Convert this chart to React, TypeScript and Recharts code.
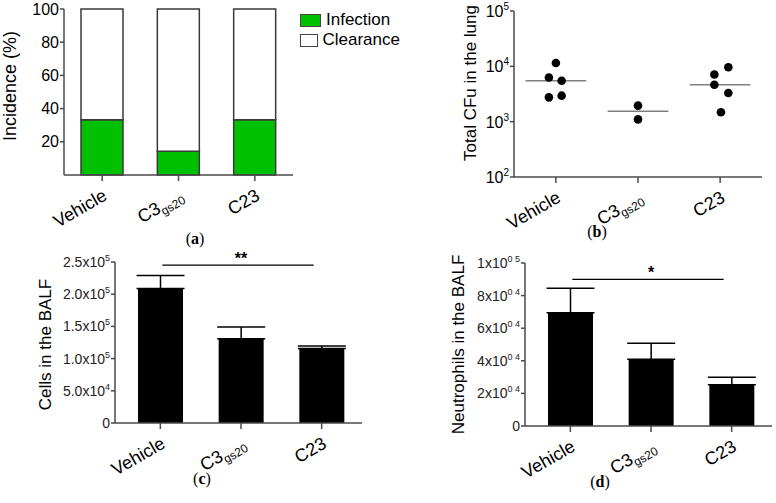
import { Bar, BarChart, ErrorBar, Label, Legend, ReferenceLine, Scatter, ScatterChart, XAxis, YAxis } from "recharts";

const FONT = '"Liberation Sans", Arial, sans-serif';
const SERIF = '"Liberation Serif", "Times New Roman", serif';
const AXIS = "#4a4a4a";
const GREEN = "#00c000";

// groups (x categories), label split into main text and subscript
const groupMain = ["Vehicle", "C3", "C23"];
const groupSub = ["", "gs20", ""];
const groupKeys = groupMain.map((m, i) => m + groupSub[i]);

// (a) incidence %
const infection = [33.3, 14.3, 33.3];
const legendOrder = ["Infection", "Clearance"];

// (b) total CFU in the lung, per animal
const cfuVehicle = [11500, 6300, 5500, 2950, 2750];
const cfuC3 = [1950, 1100];
const cfuC23 = [9600, 7100, 4650, 3300, 1480];
const cfuMedian = [5500, 1540, 4650];
const cfuTicks = [100, 1000, 10000, 100000];

// (c) cells in the BALF, mean + SEM
const cells = [209000, 131000, 115600];
const cellsSem = [20000, 18000, 4100];
const cellsTicks = [0, 50000, 100000, 150000, 200000, 250000];

// (d) neutrophils in the BALF, mean + SEM
const neut = [69500, 40900, 25300];
const neutSem = [15000, 9800, 4600];
const neutTicks = [0, 20000, 40000, 60000, 80000, 100000];

// horizontal jitter of the dots in (b)
const jitter = [
  [0, -0.085, 0.07, 0.07, -0.085],
  [0, 0],
  [0.1, -0.07, -0.07, 0.1, 0.01],
];

const incidenceData = groupKeys.map((g, i) => ({ group: g, infection: infection[i], clearance: 100 - infection[i] }));
const cfuData = [cfuVehicle, cfuC3, cfuC23].flatMap((vals, gi) =>
  vals.map((v, j) => ({ x: gi + 1 + jitter[gi][j], y: v }))
);
const cellsData = groupKeys.map((g, i) => ({ group: g, value: cells[i], err: [0, cellsSem[i]] }));
const neutData = groupKeys.map((g, i) => ({ group: g, value: neut[i], err: [0, neutSem[i]] }));

const axisProps = {
  axisLine: { stroke: AXIS, strokeWidth: 1.5 },
  tickLine: { stroke: AXIS, strokeWidth: 1.5 },
};

function GroupTick(props: any) {
  const { x, y, payload } = props;
  const i = typeof payload.value === "number" ? Math.round(payload.value) - 1 : groupKeys.indexOf(payload.value);
  return (
    <g transform={`translate(${x + 6},${y + 18}) rotate(-30)`}>
      <text textAnchor="end" fontSize={18} fontFamily={FONT} fill="#000">
        {groupMain[i]}
        {groupSub[i] ? (
          <tspan fontSize={12} dy={4}>
            {groupSub[i]}
          </tspan>
        ) : null}
      </text>
    </g>
  );
}

function YTitle(props: any) {
  const { viewBox, text, x, dy = 0, size = 17 } = props;
  const cy = viewBox.y + viewBox.height / 2 + dy;
  return (
    <text
      x={x}
      y={cy}
      transform={`rotate(-90 ${x} ${cy})`}
      textAnchor="middle"
      dominantBaseline="central"
      fontSize={size}
      fontFamily={FONT}
      fill="#000"
    >
      {text}
    </text>
  );
}

function PowTick(props: any) {
  const { x, y, payload } = props;
  const exp = Math.round(Math.log10(payload.value));
  return (
    <text x={x} y={y + 6} textAnchor="end" fontSize={16} fontFamily={FONT} fill="#000">
      10
      <tspan fontSize={10} dy={-7}>
        {exp}
      </tspan>
    </text>
  );
}

function SciTick(props: any) {
  const { x, y, payload, digits, pad } = props;
  const v = payload.value;
  if (v === 0) {
    return (
      <text x={x} y={y + 5} textAnchor="end" fontSize={14} fontFamily={FONT} fill="#222">
        0
      </text>
    );
  }
  const exp = Math.floor(Math.log10(v) + 1e-9);
  const m = (v / Math.pow(10, exp)).toFixed(digits);
  return (
    <text x={x} y={y + 5} textAnchor="end" fontSize={14} fontFamily={FONT} fill="#222">
      {m}x10
      <tspan fontSize={9} dy={-6}>
        {pad ? `0 ${exp}` : exp}
      </tspan>
    </text>
  );
}

function SigLine(props: any) {
  const { x1, x2, y1 } = props;
  return <line x1={x1 + 2} x2={x2 - 8} y1={y1} y2={y1} stroke="#000" strokeWidth={1.2} />;
}

function LegendBox(props: any) {
  const items = [...(props.payload || [])].sort(
    (a: any, b: any) => legendOrder.indexOf(a.value) - legendOrder.indexOf(b.value)
  );
  return (
    <div style={{ fontFamily: FONT, fontSize: 17, color: "#000" }}>
      {items.map((it: any) => (
        <div key={it.value} style={{ display: "flex", alignItems: "center", height: 20 }}>
          <span
            style={{
              display: "inline-block",
              width: 19,
              height: 11,
              border: "1.5px solid #444",
              background: it.payload?.fill ?? it.color,
            }}
          />
          <span style={{ marginLeft: 5 }}>{it.value}</span>
        </div>
      ))}
    </div>
  );
}

function Caption({ letter, cx, cy }: { letter: string; cx: number; cy: number }) {
  return (
    <div
      style={{
        position: "absolute",
        left: cx - 20,
        top: cy - 10,
        width: 40,
        textAlign: "center",
        fontFamily: SERIF,
        fontSize: 16,
        lineHeight: "20px",
      }}
    >
      (<b>{letter}</b>)
    </div>
  );
}

export default function App() {
  return (
    <div style={{ position: "absolute", left: 0, top: 0, width: 776, height: 503, background: "#fff", overflow: "hidden" }}>
      <div style={{ position: "absolute", left: 0, top: 0 }}>
        <BarChart width={400} height={250} data={incidenceData} margin={{ top: 9, right: 107, bottom: 0, left: 0 }}>
          <XAxis dataKey="group" height={75} interval={0} tickSize={6} tickMargin={0} tick={<GroupTick />} {...axisProps} />
          <YAxis
            width={64}
            domain={[0, 100]}
            ticks={[20, 40, 60, 80, 100]}
            tickSize={4}
            tickMargin={1}
            tick={{ fontSize: 16, fontFamily: FONT, fill: "#000" }}
            {...axisProps}
          >
            <Label content={(p: any) => <YTitle {...p} text="Incidence (%)" x={10} dy={-6} size={18} />} />
          </YAxis>
          <Legend
            layout="vertical"
            align="center"
            verticalAlign="middle"
            wrapperStyle={{ left: 300, top: 10, width: 100 }}
            content={<LegendBox />}
          />
          <Bar dataKey="infection" name="Infection" stackId="s" fill={GREEN} stroke="#3a3a3a" strokeWidth={1.5} barSize={42} isAnimationActive={false} />
          <Bar dataKey="clearance" name="Clearance" stackId="s" fill="#fff" stroke="#3a3a3a" strokeWidth={1.5} barSize={42} isAnimationActive={false} />
        </BarChart>
      </div>

      <div style={{ position: "absolute", left: 400, top: 0 }}>
        <ScatterChart width={376} height={250} margin={{ top: 11, right: 14, bottom: 0, left: 0 }}>
          <XAxis
            type="number"
            dataKey="x"
            domain={[0.49, 3.51]}
            ticks={[1, 2, 3]}
            interval={0}
            height={73}
            tickSize={6}
            tickMargin={0}
            tick={<GroupTick />}
            {...axisProps}
          />
          <YAxis
            type="number"
            dataKey="y"
            scale="log"
            domain={[100, 100000]}
            ticks={cfuTicks}
            interval={0}
            width={114}
            tickSize={4}
            tickMargin={1}
            tick={<PowTick />}
            {...axisProps}
          >
            <Label content={(p: any) => <YTitle {...p} text="Total CFu in the lung" x={70} dy={-11} />} />
          </YAxis>
          {cfuMedian.map((m, i) => (
            <ReferenceLine
              key={i}
              segment={[
                { x: i + 1 - 0.37, y: m },
                { x: i + 1 + 0.37, y: m },
              ]}
              stroke="#808080"
              strokeWidth={1.5}
            />
          ))}
          <Scatter
            data={cfuData}
            fill="#000"
            isAnimationActive={false}
            shape={(p: any) => <circle cx={p.cx} cy={p.cy} r={4.3} fill="#000" />}
          />
        </ScatterChart>
      </div>

      <div style={{ position: "absolute", left: 0, top: 250 }}>
        <BarChart width={400} height={253} data={cellsData} margin={{ top: 12, right: 38, bottom: 0, left: 0 }}>
          <XAxis dataKey="group" height={80} interval={0} padding={{ left: 5, right: 0 }} tickSize={6} tickMargin={0} tick={<GroupTick />} {...axisProps} />
          <YAxis
            width={115}
            domain={[0, 250000]}
            ticks={cellsTicks}
            interval={0}
            tickSize={4}
            tickMargin={1}
            tick={<SciTick digits={1} />}
            {...axisProps}
          >
            <Label content={(p: any) => <YTitle {...p} text="Cells in the BALF" x={45} dy={2} />} />
          </YAxis>
          <Bar dataKey="value" fill="#000" barSize={45} isAnimationActive={false}>
            <ErrorBar dataKey="err" direction="y" width={24} stroke="#000" strokeWidth={1.5} />
          </Bar>
          <ReferenceLine
            segment={[
              { x: groupKeys[0], y: 245000 },
              { x: groupKeys[2], y: 245000 },
            ]}
            shape={<SigLine />}
          >
            <Label value="**" position="top" offset={1} fontSize={16} fontWeight="bold" fill="#000" fontFamily={FONT} />
          </ReferenceLine>
        </BarChart>
      </div>

      <div style={{ position: "absolute", left: 400, top: 250 }}>
        <BarChart width={376} height={253} data={neutData} margin={{ top: 13, right: 4, bottom: 0, left: 0 }}>
          <XAxis dataKey="group" height={77} interval={0} padding={{ left: 5, right: 0 }} tickSize={6} tickMargin={0} tick={<GroupTick />} {...axisProps} />
          <YAxis
            width={125}
            domain={[0, 100000]}
            ticks={neutTicks}
            interval={0}
            tickSize={4}
            tickMargin={1}
            tick={<SciTick digits={0} pad />}
            {...axisProps}
          >
            <Label content={(p: any) => <YTitle {...p} text="Neutrophils in the BALF" x={58} dy={0} />} />
          </YAxis>
          <Bar dataKey="value" fill="#000" barSize={45} isAnimationActive={false}>
            <ErrorBar dataKey="err" direction="y" width={24} stroke="#000" strokeWidth={1.5} />
          </Bar>
          <ReferenceLine
            segment={[
              { x: groupKeys[0], y: 90000 },
              { x: groupKeys[2], y: 90000 },
            ]}
            shape={<SigLine />}
          >
            <Label value="*" position="top" offset={1} fontSize={16} fontWeight="bold" fill="#000" fontFamily={FONT} />
          </ReferenceLine>
        </BarChart>
      </div>

      <Caption letter="a" cx={195} cy={239} />
      <Caption letter="b" cx={597} cy={232} />
      <Caption letter="c" cx={202} cy={479} />
      <Caption letter="d" cx={600} cy={482} />
    </div>
  );
}
